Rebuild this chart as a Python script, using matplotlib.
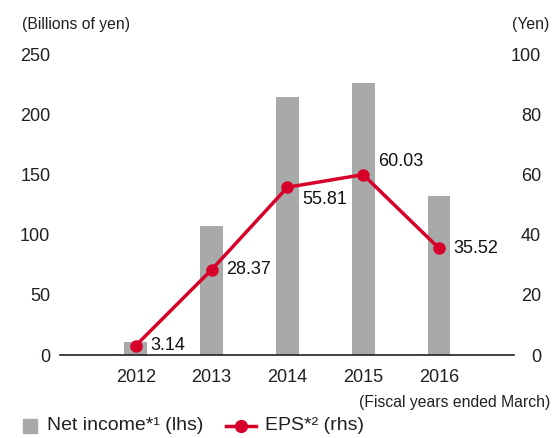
import matplotlib
matplotlib.use("Agg")
import matplotlib.pyplot as plt
from matplotlib.patches import Rectangle
from matplotlib.lines import Line2D
import numpy as np

plt.rcParams['font.family'] = ['Liberation Sans', 'DejaVu Sans']

# data
years = ["2012", "2013", "2014", "2015", "2016"]
net_income = [11, 107, 215, 226, 132]        # billions of yen (lhs)
eps = [3.14, 28.37, 55.81, 60.03, 35.52]      # yen (rhs)
eps_labels = ["3.14", "28.37", "55.81", "60.03", "35.52"]
left_ticks = [0, 50, 100, 150, 200, 250]
right_ticks = [0, 20, 40, 60, 80, 100]

GRAY = "#a8aaa9"
RED = "#d6002a"
TXT = "#231f20"

fig = plt.figure(figsize=(5.54, 4.38), dpi=100)
ax = fig.add_axes([60/554, 1-355/438, 454/554, 300.5/438])
ax2 = ax.twinx()

x = np.arange(len(years))
ax.bar(x, net_income, width=0.30, color=GRAY, zorder=1)
ax.set_xlim(-1.0, 4.99)
ax.set_ylim(0, 250)
ax.set_yticks(left_ticks)
ax.set_xticks(x)
ax.set_xticklabels(years)

ax2.plot(x, eps, color=RED, lw=2.5, marker="o", ms=8, zorder=3, clip_on=False)
ax2.set_ylim(0, 100)
ax2.set_yticks(right_ticks)

for a in (ax, ax2):
    for s in ("top", "left", "right"):
        a.spines[s].set_visible(False)
ax.spines["bottom"].set_color(TXT)
ax.spines["bottom"].set_linewidth(1.2)
ax2.spines["bottom"].set_visible(False)

ax.tick_params(axis="y", length=0, pad=7, labelsize=13, labelcolor=TXT)
ax.tick_params(axis="x", length=0, pad=10, labelsize=13, labelcolor=TXT)
ax2.tick_params(axis="y", length=0, pad=19.4, labelsize=13, labelcolor=TXT)
for lab in ax2.get_yticklabels():
    lab.set_horizontalalignment("right")

# data labels: (dx, dy) offsets in points
offsets = [(10.5, 0), (10.5, 0), (10.5, -8.5), (10.5, 9.5), (10.5, 0)]
for xi, v, lab, (dx, dy) in zip(x, eps, eps_labels, offsets):
    ax2.annotate(lab, (xi, v), xytext=(dx, dy), textcoords="offset points",
                 ha="left", va="center", fontsize=13, color="#111111", zorder=4)

# unit labels
fig.text(22/554, 1-25/438, "(Billions of yen)", fontsize=11.3, color=TXT,
         ha="left", va="center")
fig.text(549/554, 1-25/438, "(Yen)", fontsize=11.3, color=TXT,
         ha="right", va="center")
fig.text(550/554, 1-402/438, "(Fiscal years ended March)", fontsize=11.3,
         color=TXT, ha="right", va="center")

# legend
ly = 1 - 426/438
fig.add_artist(Rectangle((23/554, ly - 7/438), 14/554, 14/438,
                         transform=fig.transFigure, color=GRAY))
fig.text(47/554, ly, "Net income*\u00b9 (lhs)", fontsize=14, color=TXT,
         ha="left", va="center")
fig.add_artist(Line2D([226/554, 256/554], [ly, ly], transform=fig.transFigure,
                      color=RED, lw=2.5))
fig.add_artist(Line2D([241/554], [ly], transform=fig.transFigure, color=RED,
                      marker="o", ms=8.5))
fig.text(265/554, ly, "EPS*\u00b2 (rhs)", fontsize=14, color=TXT,
         ha="left", va="center")

fig.savefig("out.png", dpi=100)
